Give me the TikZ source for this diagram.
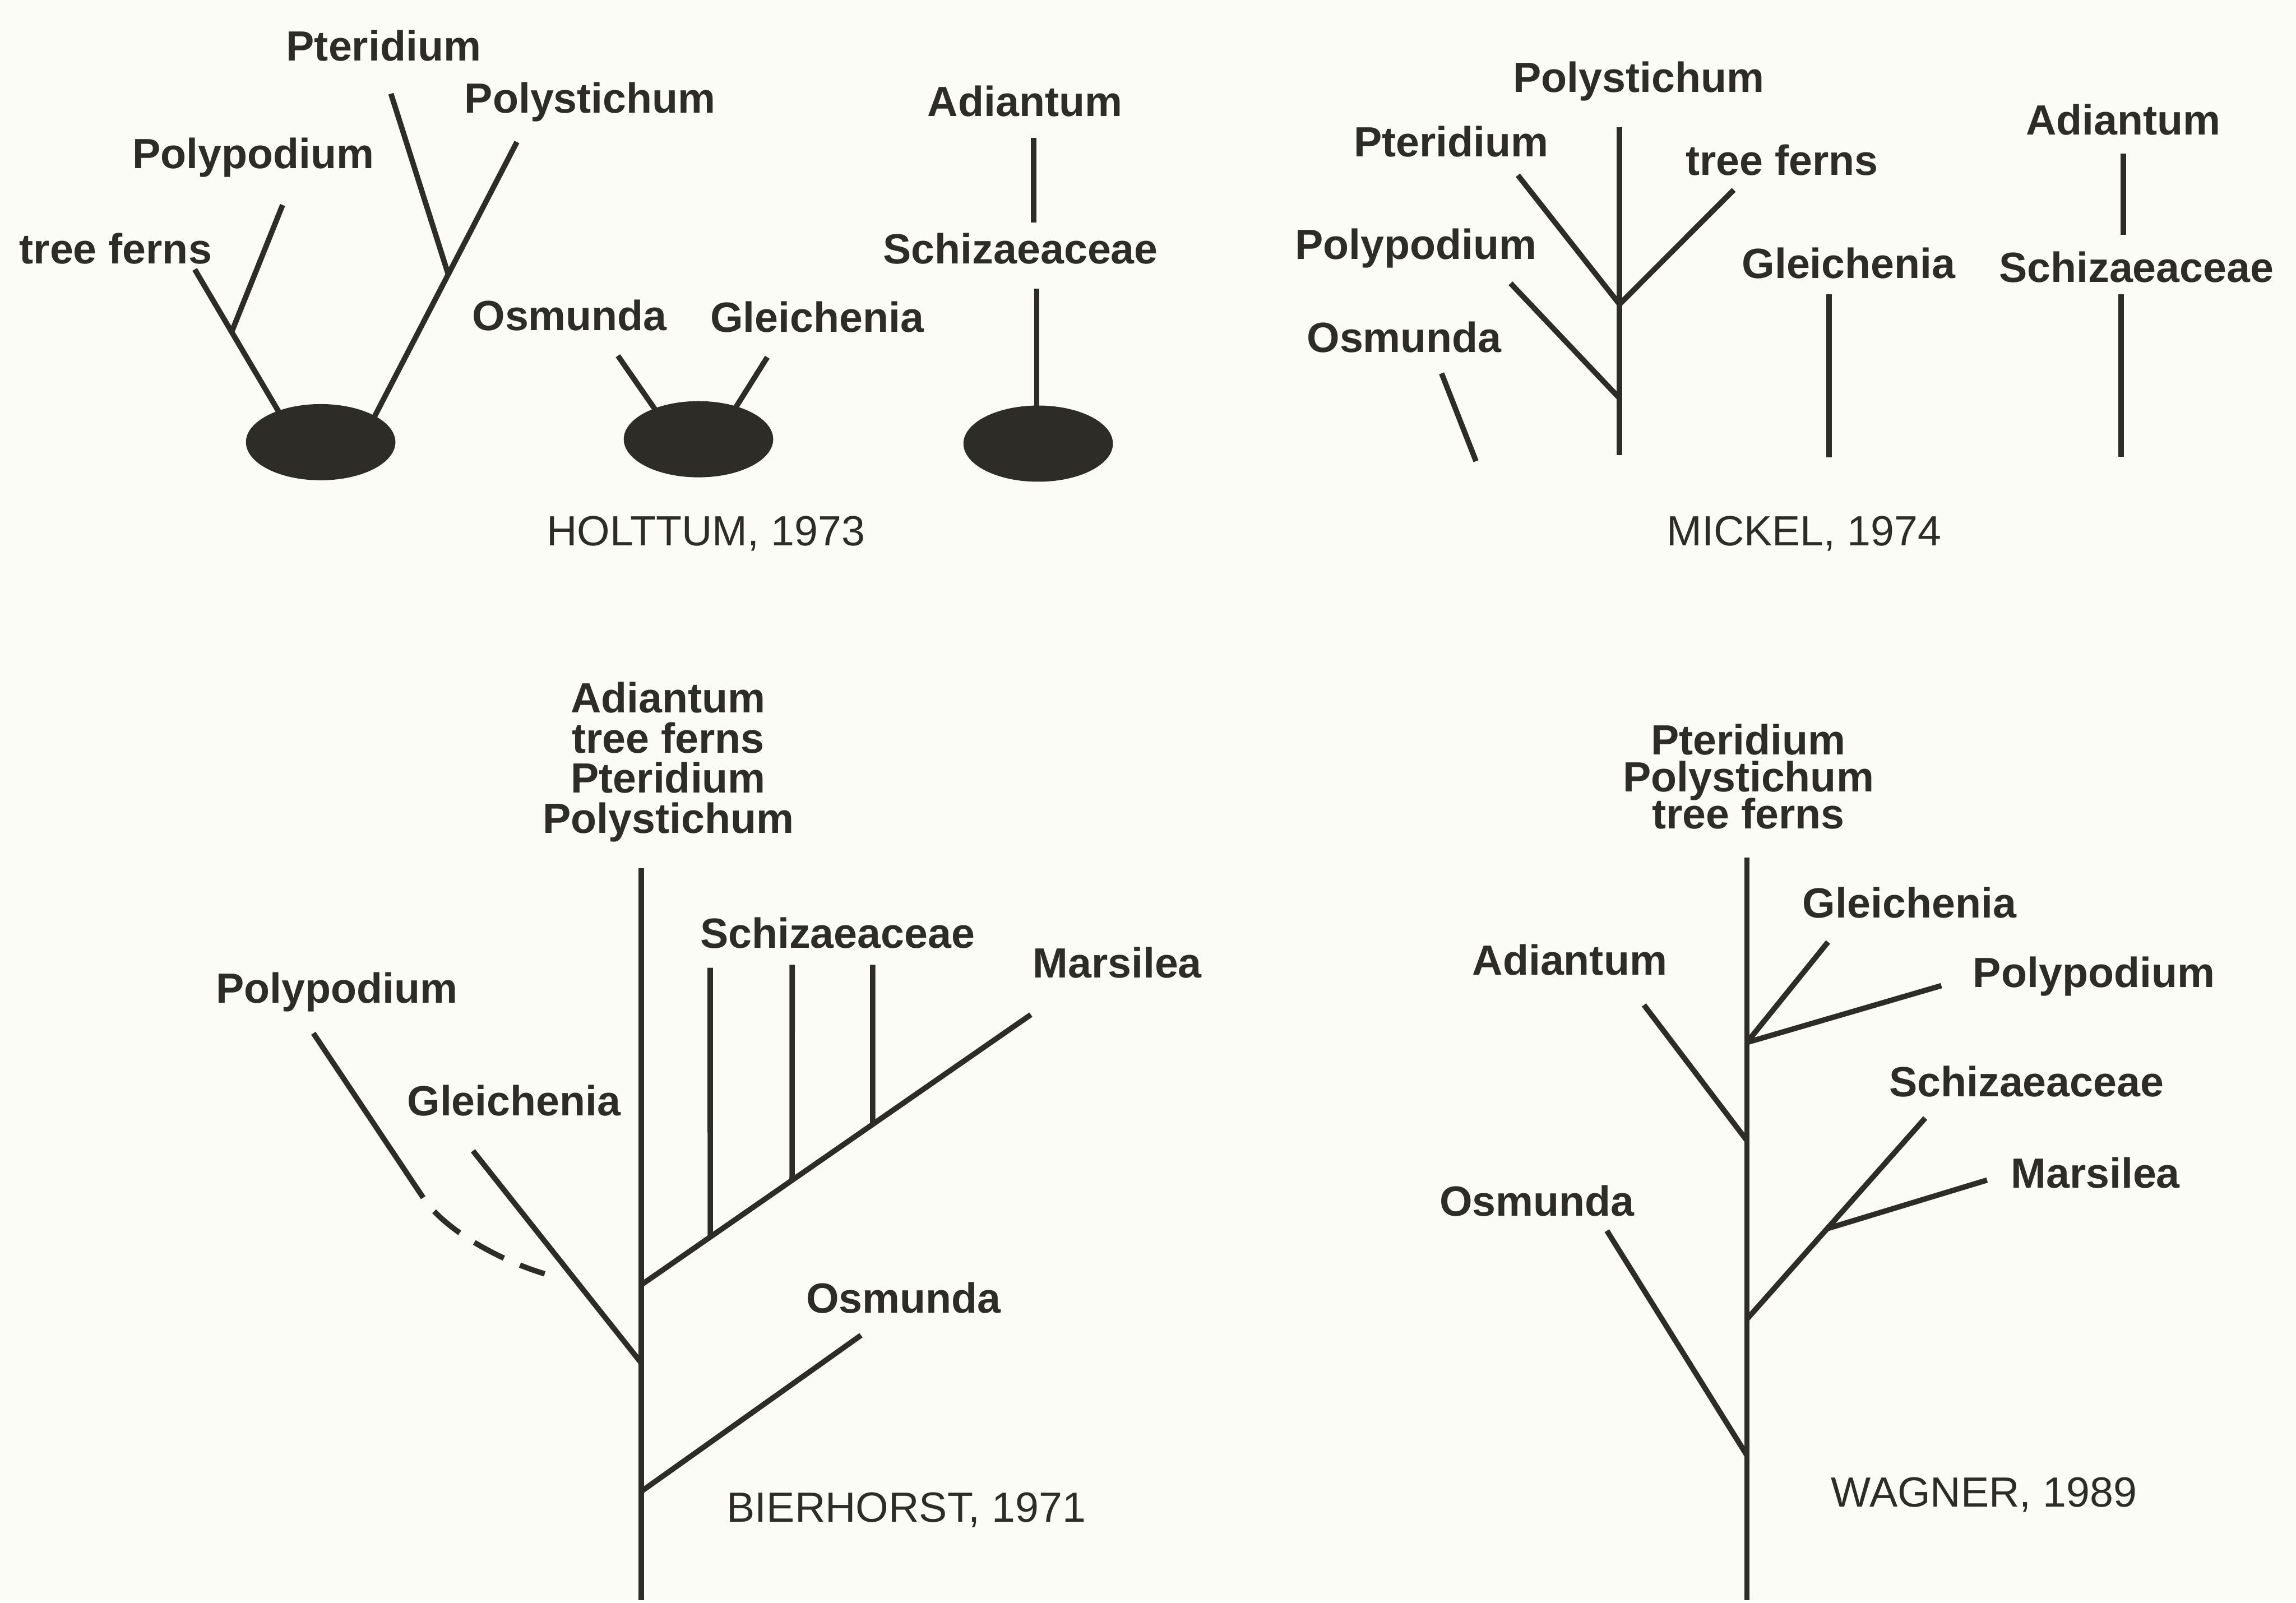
\documentclass[tikz,border=0pt]{standalone}
\usepackage{fontspec}
\setmainfont{Liberation Sans}
\usepackage{xcolor}
\usetikzlibrary{calc,shapes.geometric}
\definecolor{ink}{HTML}{2D2C26}
\definecolor{paper}{HTML}{FCFCF7}

\begin{document}
\begin{tikzpicture}[x=0.01cm, y=-0.01cm,
  taxon/.style={font=\bfseries\fontsize{8.2}{9.8}\selectfont, text=ink,
                inner sep=0pt, anchor=base},
  taxa/.style={taxon, align=center},
  caption/.style={font=\fontsize{8.2}{9.8}\selectfont, text=ink,
                  inner sep=0pt, anchor=base},
  branch/.style={draw=ink, line width=1.05pt},
  guess/.style={branch, dash pattern=on 6.5pt off 3.4pt, dash phase=6.5pt},
  mass/.style={ellipse, fill=ink, inner sep=0pt,
               minimum width=1.02cm, minimum height=0.52cm}]

  \fill[paper] (0,0) rectangle (1568,1093);

  % Holttum
  \node[taxon] (h-pter) at (262,41.6) {Pteridium};
  \node[taxon] (h-polys) at (403,77) {Polystichum};
  \node[taxon] (h-polyp) at (173,115) {Polypodium};
  \node[taxon] (h-tree) at (79,180) {tree ferns};
  \node[taxon] (h-adi) at (700,79.4) {Adiantum};
  \node[taxon] (h-sch) at (697,180) {Schizaeaceae};
  \node[taxon] (h-osm) at (389,225.5) {Osmunda};
  \node[taxon] (h-gle) at (558,227) {Gleichenia};
  \node[caption] (h-cap) at (482,372.8) {HOLTTUM, 1973};

  \coordinate (h-j1) at (158.5,226);
  \coordinate (h-j2) at (306,187);
  \draw[branch] (133,184) -- (192,284);
  \draw[branch] (193,140) -- (h-j1);
  \draw[branch] (267,64) -- (h-j2);
  \draw[branch] (353,97) -- (255,286);
  \draw[branch] (422,243) -- (449,282);
  \draw[branch] (524,244) -- (502,279);
  \draw[branch] (706,94) -- (706,152);
  \draw[branch] (708,197) -- (708,285);
  \node[mass] (h-m1) at (219,302) {};
  \node[mass] (h-m2) at (477,300) {};
  \node[mass] (h-m3) at (709,303) {};

  % Mickel
  \node[taxon] (m-polys) at (1119,63) {Polystichum};
  \node[taxon] (m-pter) at (991,107) {Pteridium};
  \node[taxon] (m-tree) at (1217,119.7) {tree ferns};
  \node[taxon] (m-polyp) at (967,177) {Polypodium};
  \node[taxon] (m-osm) at (959,240.6) {Osmunda};
  \node[taxon] (m-gle) at (1262.5,190) {Gleichenia};
  \node[taxon] (m-adi) at (1450,92) {Adiantum};
  \node[taxon] (m-sch) at (1459,192.7) {Schizaeaceae};
  \node[caption] (m-cap) at (1232,372.8) {MICKEL, 1974};

  \coordinate (m-top) at (1106,87);
  \coordinate (m-base) at (1106,311);
  \coordinate (m-j1) at (1106,207.8);
  \coordinate (m-j2) at (1106,272);
  \draw[branch] (m-top) -- (m-base);
  \draw[branch] (1036.6,119.7) -- (m-j1);
  \draw[branch] (1184,129.7) -- (m-j1);
  \draw[branch] (1031.6,193.5) -- (m-j2);
  \draw[branch] (984.5,255) -- (1008,315);
  \draw[branch] (1249,200.8) -- (1249,312.4);
  \draw[branch] (1450,105) -- (1450,160.4);
  \draw[branch] (1448.5,201) -- (1448.5,312);

  % Bierhorst
  \node[taxa, font={\bfseries\fontsize{8.2}{7.8}\selectfont\lineskiplimit=-20pt}]
    (b-top) at (456.4,569) {Adiantum\\tree ferns\\Pteridium\\Polystichum};
  \node[taxon] (b-sch) at (572,647.4) {Schizaeaceae};
  \node[taxon] (b-mar) at (763,668) {Marsilea};
  \node[taxon] (b-polyp) at (230,685) {Polypodium};
  \node[taxon] (b-gle) at (351,762) {Gleichenia};
  \node[taxon] (b-osm) at (617,896.7) {Osmunda};
  \node[caption] (b-cap) at (619,1039.4) {BIERHORST, 1971};

  \coordinate (b-tip) at (438,593);
  \coordinate (b-base) at (438,1093);
  \coordinate (b-j1) at (438,877.5);
  \coordinate (b-j2) at (438,931);
  \coordinate (b-j3) at (438,1018.6);
  \coordinate (b-mtip) at (704,693);
  \coordinate (b-cut) at (289,818);
  \draw[branch] (b-tip) -- (b-base);
  \draw[branch] (b-j1) -- (b-mtip);
  \draw[branch] (485,661) -- ($(b-j1)!0.177!(b-mtip)$);
  \draw[branch] (541,659) -- ($(b-j1)!0.387!(b-mtip)$);
  \draw[branch] (596,659) -- ($(b-j1)!0.594!(b-mtip)$);
  \draw[branch] (323,786) -- (b-j2);
  \draw[branch] (214,705.7) -- (b-cut);
  \draw[guess] (b-cut) .. controls (305,842) and (345,862) .. (372,870);
  \draw[branch] (b-j3) -- (588,912);

  % Wagner
  \node[taxa, font={\bfseries\fontsize{8.2}{7.2}\selectfont\lineskiplimit=-20pt}]
    (w-top) at (1194,566) {Pteridium\\Polystichum\\tree ferns};
  \node[taxon] (w-gle) at (1304,626.7) {Gleichenia};
  \node[taxon] (w-polyp) at (1430,674.5) {Polypodium};
  \node[taxon] (w-adi) at (1072,666) {Adiantum};
  \node[taxon] (w-sch) at (1384,749) {Schizaeaceae};
  \node[taxon] (w-mar) at (1431,811.5) {Marsilea};
  \node[taxon] (w-osm) at (1049.6,830.6) {Osmunda};
  \node[caption] (w-cap) at (1355,1029) {WAGNER, 1989};

  \coordinate (w-tip) at (1193,585.6);
  \coordinate (w-base) at (1193,1093);
  \coordinate (w-j1) at (1193,712);
  \coordinate (w-j2) at (1193,779);
  \coordinate (w-j3) at (1193,901);
  \coordinate (w-j4) at (1193,994);
  \coordinate (w-stip) at (1314.8,763.6);
  \draw[branch] (w-tip) -- (w-base);
  \draw[branch] (w-j1) -- (1248.4,643.4);
  \draw[branch] (w-j1) -- (1325.8,673.2);
  \draw[branch] (1122.7,686.4) -- (w-j2);
  \draw[branch] (w-j3) -- (w-stip);
  \draw[branch] ($(w-j3)!0.45!(w-stip)$) -- (1357,806);
  \draw[branch] (1097.4,840.6) -- (w-j4);
\end{tikzpicture}
\end{document}
